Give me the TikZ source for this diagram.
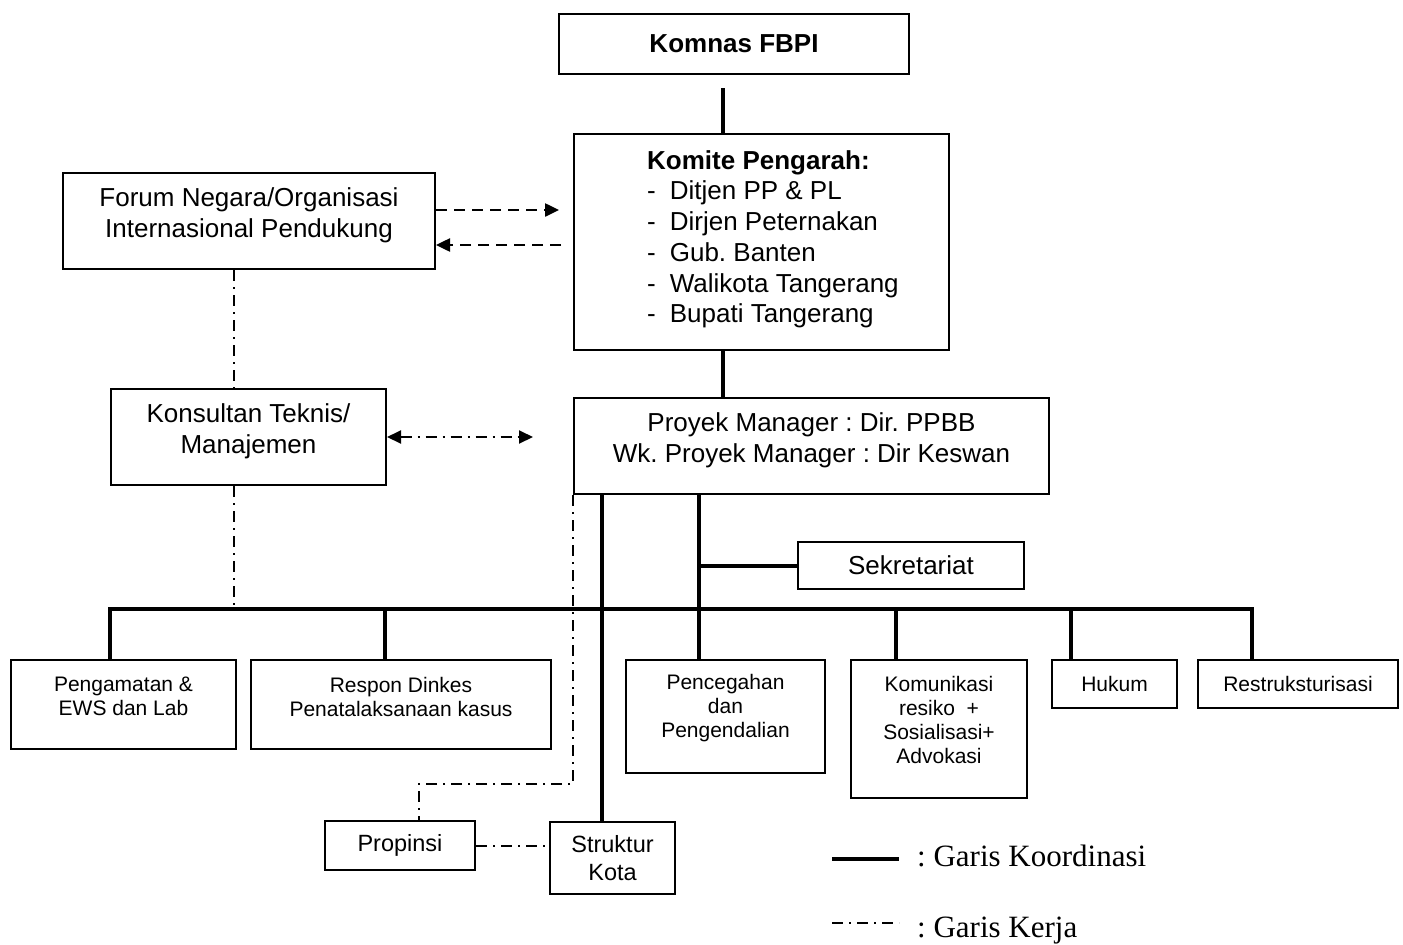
\documentclass[tikz,border=0pt]{standalone}
\usepackage{fontspec}
\setmainfont{Liberation Sans}
\newfontfamily\timesfont{Liberation Serif}
\usetikzlibrary{arrows.meta,calc}
\newcommand{\lift}[1]{\rule[-#1pt]{0pt}{0pt}}
\frenchspacing

\tikzset{
  box/.style={draw, line width=2pt, align=center, inner sep=0pt, anchor=north west},
  boxL/.style={box, font=\fontsize{26}{31}\selectfont},
  boxM/.style={box, font=\fontsize{23.5}{28}\selectfont},
  boxS/.style={box, font=\fontsize{21}{24}\selectfont},
  koor/.style={line width=4pt},
  kerja/.style={line width=2pt, dash pattern=on 11pt off 6pt on 2pt off 6pt},
  putus/.style={line width=2.5pt, dash pattern=on 11pt off 7pt},
  legenda/.style={font=\timesfont\fontsize{31}{36}\selectfont, inner sep=0pt, anchor=base west}
}

\begin{document}
\begin{tikzpicture}[x=1pt, y=-1pt, >={Triangle[length=14pt,width=13pt]}]
	\useasboundingbox (0,0) rectangle (1403,945);
	% boxes
	\node[boxL, minimum width=350, minimum height=60, font=\fontsize{26}{31}\selectfont\bfseries] (komnas) at (558,13) {Komnas FBPI};
	\node[box, minimum width=375, minimum height=216] (komite) at (573,133) {};
	\node[anchor=north west, inner sep=0pt, font=\fontsize{26}{30.75}\selectfont] (komite-isi) at (647,147.5)
		{\begin{tabular}{@{}l@{\hspace{14pt}}l@{}}
			\multicolumn{2}{@{}l@{}}{\textbf{Komite Pengarah:}}\\
			- & Ditjen PP \& PL\\
			- & Dirjen Peternakan\\
			- & Gub. Banten\\
			- & Walikota Tangerang\\
			- & Bupati Tangerang
		\end{tabular}};
	\node[boxL, minimum width=475, minimum height=96] (proyek) at (573,397) {Proyek Manager : Dir. PPBB\\Wk. Proyek Manager : Dir Keswan\lift{16.5}};
	\node[boxL, minimum width=372, minimum height=96] (forum) at (62,172) {Forum Negara/Organisasi\\Internasional Pendukung\lift{17.5}};
	\node[boxL, minimum width=275, minimum height=96] (konsultan) at (110,388) {Konsultan Teknis/\\Manajemen\lift{16.5}};
	\node[boxL, minimum width=226, minimum height=47] (sekretariat) at (797,541) {Sekretariat};
	\node[boxS, minimum width=225, minimum height=89] (pengamatan) at (10,659) {Pengamatan \&\\EWS dan Lab\lift{16}};
	\node[boxS, minimum width=300, minimum height=89] (respon) at (250,659) {Respon Dinkes\\Penatalaksanaan kasus\lift{16}};
	\node[boxS, minimum width=199, minimum height=113] (pencegahan) at (625,659) {Pencegahan\\dan\\Pengendalian\lift{21}};
	\node[boxS, minimum width=176, minimum height=138] (komunikasi) at (850,659) {Komunikasi\\resiko\ \ +\\Sosialisasi+\\Advokasi\lift{18}};
	\node[boxS, minimum width=125, minimum height=48] (hukum) at (1051,659) {Hukum};
	\node[boxS, minimum width=200, minimum height=48] (restruk) at (1197,659) {Restruksturisasi};
	\node[boxM, minimum width=150, minimum height=49] (propinsi) at (324,820) {Propinsi};
	\node[boxM, minimum width=125, minimum height=72] (kota) at (549,821) {Struktur\\Kota};
	% points for the lines
	\coordinate (tengah) at (723,0);
	\coordinate (sumbu) at (234,0);
	\coordinate (busL) at (110,609);
	\coordinate (busR) at (1252,609);
	\coordinate (dRespon) at ([xshift=-16]respon.north);
	\coordinate (dKomunikasi) at ([xshift=-43]komunikasi.north);
	\coordinate (dHukum) at ([xshift=-44]hukum.north);
	\coordinate (dCegah) at ([xshift=-27]pencegahan.north);
	\coordinate (dKota) at ([xshift=-11]kota.north);
	\coordinate (dProp) at ([xshift=19]propinsi.north);
	\coordinate (fA) at ([yshift=11]forum.east);
	\coordinate (fB) at ([yshift=-24]forum.east);
	% garis koordinasi
	\draw[koor] ($(tengah |- komnas.south)+(0,13)$) -- (tengah |- komite.north);
	\draw[koor] (tengah |- komite.south) -- (tengah |- proyek.north);
	\draw[koor] (busL |- pengamatan.north) -- (busL) -- (busR) -- (busR |- restruk.north);
	\foreach \d in {dRespon, dKomunikasi, dHukum}
		\draw[koor] (\d |- busL) -- (\d);
	\draw[koor] (dCegah |- proyek.south) -- (dCegah);
	\draw[koor] (sekretariat.west) -- (sekretariat.west -| dCegah);
	\draw[koor] (dKota |- proyek.south) -- (dKota);
	% garis kerja
	\draw[putus, ->, shorten >=14pt] (fA) -- (fA -| komite.west);
	\draw[putus, ->, shorten <=12pt] (fB -| komite.west) -- (fB);
	\draw[kerja] (sumbu |- forum.south) -- (sumbu |- konsultan.north);
	\draw[kerja] (sumbu |- konsultan.south) -- (sumbu |- busL);
	\draw[kerja, <->, shorten >=40pt] (konsultan.east) -- (konsultan.east -| proyek.west);
	\draw[kerja] (proyek.south west) |- ([yshift=36]dProp) -- (dProp);
	\draw[kerja] (propinsi.east) -- (propinsi.east -| kota.west);
	% legend
	\coordinate (legA) at (832,859);
	\coordinate (legB) at (832,923);
	\draw[koor] (legA) -- ++(67,0);
	\draw[kerja, line width=1.5pt] (legB) -- ++(67,0);
	\node[legenda] (legA-t) at (917,866) {: Garis Koordinasi};
	\node[legenda] (legB-t) at (917,937) {: Garis Kerja};
\end{tikzpicture}
\end{document}
